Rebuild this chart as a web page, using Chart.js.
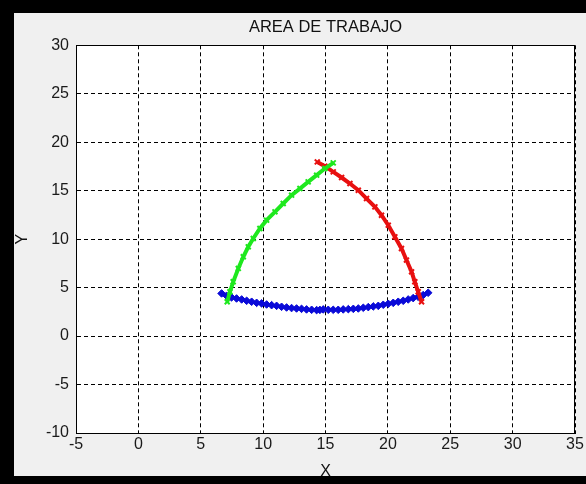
<!DOCTYPE html>
<html lang="es">
<head>
    <meta charset="UTF-8">
    <title>AREA DE TRABAJO</title>
    <script src="https://cdn.jsdelivr.net/npm/chart.js"></script>
    <style>
        html, body {
            margin: 0;
            padding: 0;
            overflow: hidden;
            background: #000;
        }
        #areaChart {
            display: block;
        }
    </style>
</head>
<body>
    <canvas id="areaChart" width="586" height="484"></canvas>
    <script>
        // datos
        const greenX = [7.12, 7.34, 7.60, 8.01, 8.41, 8.81, 9.21, 9.74, 10.28, 10.95, 11.61, 12.28, 12.95, 13.61, 14.29, 14.95, 15.62];
        const greenY = [3.54, 4.57, 5.60, 6.98, 8.18, 9.21, 10.07, 11.10, 11.96, 12.82, 13.68, 14.54, 15.22, 15.91, 16.60, 17.29, 17.87];

        const redX = [14.34, 14.95, 15.62, 16.29, 16.96, 17.63, 18.29, 18.96, 19.49, 20.03, 20.56, 21.09, 21.49, 21.90, 22.16, 22.43, 22.70];
        const redY = [17.97, 17.53, 16.94, 16.36, 15.74, 15.05, 14.19, 13.33, 12.47, 11.44, 10.24, 9.04, 7.84, 6.63, 5.60, 4.57, 3.54];

        const blueX = [6.67, 7.07, 7.47, 7.87, 8.28, 8.68, 9.08, 9.48, 9.88, 10.28, 10.68, 11.08, 11.48, 11.88, 12.28, 12.68,
                       13.08, 13.48, 13.89, 14.29, 14.55, 14.82, 15.22, 15.62, 16.02, 16.42, 16.83, 17.23, 17.63, 18.03, 18.43,
                       18.83, 19.23, 19.63, 20.03, 20.43, 20.83, 21.23, 21.63, 22.03, 22.43, 22.83, 23.23];
        const blueY = [4.40, 4.16, 3.99, 3.88, 3.78, 3.64, 3.54, 3.43, 3.37, 3.26, 3.19, 3.12, 3.02, 2.95, 2.89, 2.85,
                       2.81, 2.75, 2.71, 2.68, 2.70, 2.75, 2.71, 2.71, 2.71, 2.75, 2.78, 2.81, 2.85, 2.92, 2.99,
                       3.06, 3.12, 3.23, 3.33, 3.43, 3.54, 3.64, 3.78, 3.92, 4.05, 4.23, 4.47];

        const xTicks = [-5, 0, 5, 10, 15, 20, 25, 30, 35];
        const yTicks = [-10, -5, 0, 5, 10, 15, 20, 25, 30];

        function toPoints(xs, ys) {
            return xs.map((x, i) => ({ x: x, y: ys[i] }));
        }

        // marco negro, fondo gris, area blanca y caja del grafico
        const frame = {
            id: 'frame',
            beforeDraw(chart) {
                const { ctx, width, height, chartArea: a } = chart;
                ctx.save();
                ctx.fillStyle = '#000';
                ctx.fillRect(0, 0, width, height);
                ctx.fillStyle = '#f0f0f0';
                ctx.fillRect(14, 13, width - 14, 476 - 13);
                ctx.fillStyle = '#fff';
                ctx.fillRect(a.left, a.top, a.right - a.left, a.bottom - a.top);
                ctx.restore();
            },
            afterDatasetsDraw(chart) {
                const { ctx, chartArea: a } = chart;
                ctx.save();
                ctx.strokeStyle = '#000';
                ctx.lineWidth = 1;
                ctx.strokeRect(Math.round(a.left) + 0.5, Math.round(a.top) + 0.5,
                    Math.round(a.right - a.left) - 1, Math.round(a.bottom - a.top));
                ctx.restore();
            }
        };

        const font = { family: '"Liberation Sans", Arial, sans-serif', size: 16 };
        const gridOpts = {
            color: '#000',
            lineWidth: 1,
            drawTicks: false,
            tickLength: 0
        };

        new Chart(document.getElementById('areaChart').getContext('2d'), {
            type: 'scatter',
            data: {
                datasets: [
                    { label: 'q1', data: toPoints(greenX, greenY), showLine: true, order: 0,
                      borderColor: '#1ee81e', backgroundColor: '#1ee81e', borderWidth: 4,
                      pointStyle: 'crossRot', pointRadius: 3.5, pointBorderWidth: 2 },
                    { label: 'q2', data: toPoints(redX, redY), showLine: true, order: 1,
                      borderColor: '#e81010', backgroundColor: '#e81010', borderWidth: 4,
                      pointStyle: 'crossRot', pointRadius: 3.5, pointBorderWidth: 2 },
                    { label: 'q3', data: toPoints(blueX, blueY), showLine: true, order: 2,
                      borderColor: '#0a0ad8', backgroundColor: '#0a0ad8', borderWidth: 2.5,
                      pointStyle: 'rectRot', pointRadius: 3.8, pointBorderWidth: 1 }
                ]
            },
            options: {
                responsive: false,
                animation: false,
                events: [],
                layout: { padding: { left: 14, right: 11, top: 13, bottom: 0 } },
                plugins: {
                    legend: { display: false },
                    tooltip: { enabled: false },
                    title: {
                        display: true,
                        fullSize: false,
                        text: 'AREA DE TRABAJO',
                        color: '#111',
                        font: { family: font.family, size: 16.5, weight: 'normal' },
                        padding: { top: 5, bottom: 7.5 }
                    }
                },
                scales: {
                    x: {
                        type: 'linear',
                        min: xTicks[0],
                        max: xTicks[xTicks.length - 1],
                        afterBuildTicks: s => { s.ticks = xTicks.map(v => ({ value: v })); },
                        afterFit: s => { s.height = 51; },
                        grid: Object.assign({ borderDash: [4, 3] }, gridOpts),
                        border: { display: true, color: '#000', dash: [4, 3] },
                        ticks: { color: '#1a1a1a', font: font, padding: 1.5, maxRotation: 0 },
                        title: { display: true, text: 'X', color: '#111', font: font, padding: { top: 0, bottom: 2.5 } }
                    },
                    y: {
                        type: 'linear',
                        min: yTicks[0],
                        max: yTicks[yTicks.length - 1],
                        afterBuildTicks: s => { s.ticks = yTicks.map(v => ({ value: v })); },
                        afterFit: s => { s.width = 62; },
                        grid: gridOpts,
                        border: { display: true, color: '#000', dash: [4, 3] },
                        ticks: { color: '#1a1a1a', font: font, padding: 7 },
                        title: { display: true, text: 'Y', color: '#111', font: font, padding: { top: -1, bottom: 0 } }
                    }
                }
            },
            plugins: [frame]
        });
    </script>
</body>
</html>
